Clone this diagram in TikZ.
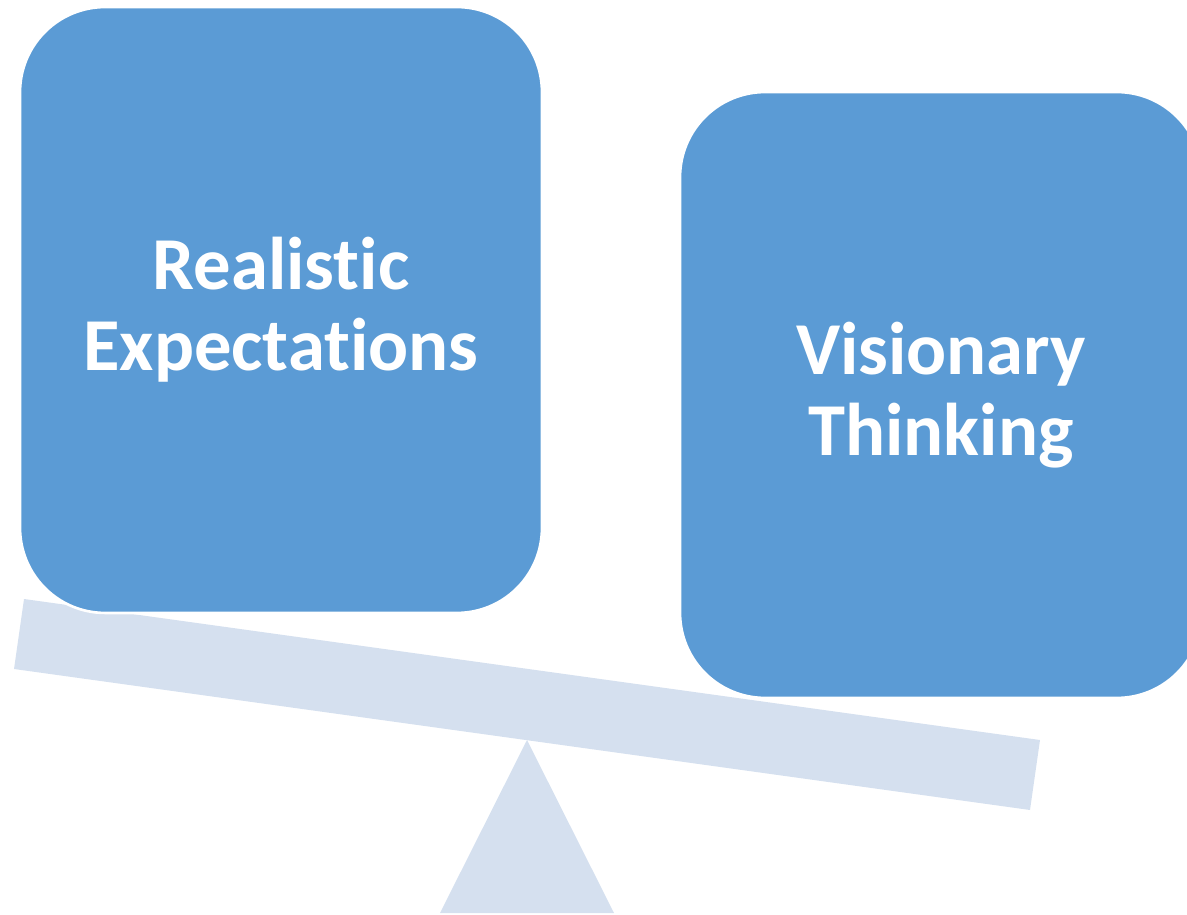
\documentclass[tikz,border=0pt]{standalone}
\usepackage{fontspec}
\setmainfont{Carlito}[Ligatures={NoCommon}]
\usetikzlibrary{shapes.geometric}
\definecolor{accentblue}{HTML}{5B9BD5}
\definecolor{paleblue}{HTML}{D5E0EF}

\begin{document}
\begin{tikzpicture}[x=0.02cm, y=-0.02cm]
\tikzstyle{weight} = [rectangle, rounded corners=1.7cm, minimum width=10.44cm, minimum height=12.12cm, inner sep=0pt, text centered, align=center, draw=white, line width=1.5pt, fill=accentblue, text=white, font=\fontsize{42.5}{46}\selectfont\bfseries]

\clip (0,0) rectangle (1187,915);

% beam and fulcrum
\fill[paleblue] (527,740) -- (614,913) -- (440,913) -- cycle;
\fill[paleblue] (24,599) -- (1040,740) -- (1030,810) -- (14,669) -- cycle;

\node (realistic) [weight] at (281,310) {Realistic\\Expectations};
\node (visionary) [weight] at (941,395) {Visionary\\Thinking};

\end{tikzpicture}
\end{document}
